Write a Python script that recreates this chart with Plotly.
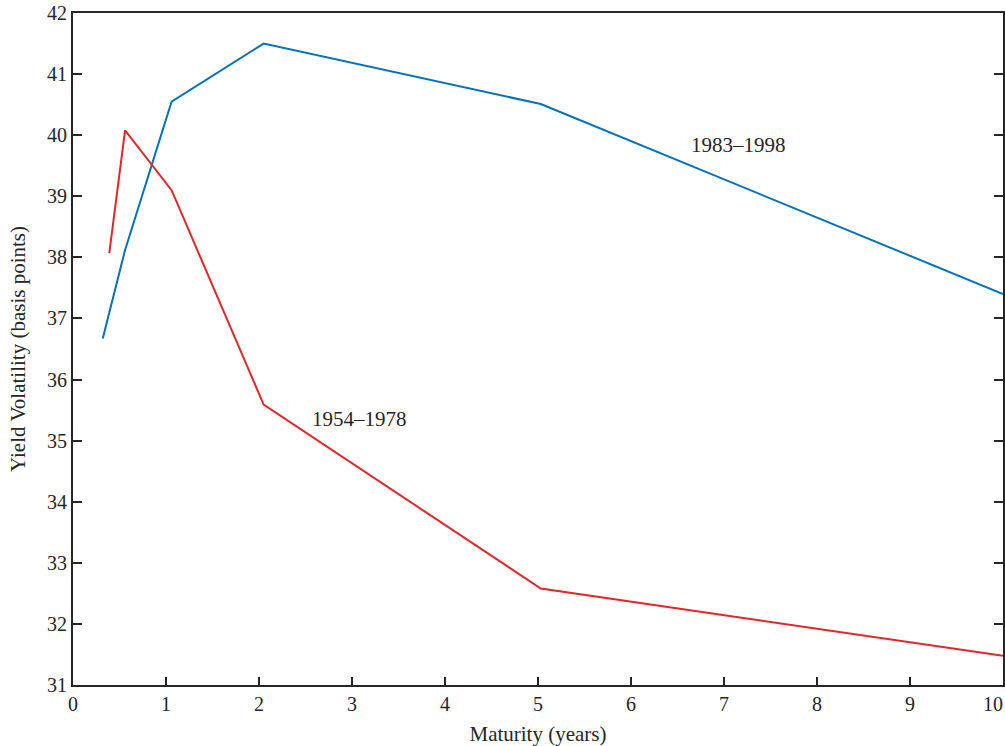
import plotly.graph_objects as go

maturity_8398 = [0.32, 0.56, 1.06, 2.05, 5.03, 10.0]
vol_8398 = [36.67, 38.12, 40.55, 41.50, 40.51, 37.40]
maturity_5478 = [0.39, 0.56, 1.06, 2.05, 5.03, 10.0]
vol_5478 = [38.07, 40.08, 39.10, 35.59, 32.58, 31.48]

label_8398 = "1983–1998"
label_5478 = "1954–1978"
x_ticks = list(range(0, 11))
y_ticks = list(range(31, 43))

FONT = "Liberation Serif, DejaVu Serif, serif"
TXT = "#262626"

fig = go.Figure()
fig.add_trace(go.Scatter(x=maturity_8398, y=vol_8398, mode="lines",
                         line=dict(color="#0072BD", width=2), showlegend=False))
fig.add_trace(go.Scatter(x=maturity_5478, y=vol_5478, mode="lines",
                         line=dict(color="#E3262A", width=2), showlegend=False))

fig.add_annotation(x=7.16, y=39.84, text=label_8398, showarrow=False,
                   font=dict(family=FONT, size=21, color=TXT))
fig.add_annotation(x=3.08, y=35.35, text=label_5478, showarrow=False,
                   font=dict(family=FONT, size=21, color=TXT))
# last x tick label, which plotly drops because it reaches the page edge
fig.add_annotation(x=x_ticks[-1], xref="x", y=0, yref="paper", text=str(x_ticks[-1]),
                   showarrow=False, xanchor="right", yanchor="top", xshift=2, yshift=-6,
                   font=dict(family=FONT, size=20, color=TXT))

fig.update_layout(
    width=1005, height=746,
    margin=dict(l=73, r=2, t=13, b=61, autoexpand=False),
    paper_bgcolor="white", plot_bgcolor="white",
    font=dict(family=FONT, size=20, color=TXT),
    xaxis=dict(range=[0, 10], tickvals=x_ticks, ticks="inside", ticklen=8,
               tickwidth=1.5, tickcolor="#262626", showline=True, linecolor="#262626",
               linewidth=2, mirror=True, showgrid=False, zeroline=False,
               automargin=False,
               title=dict(text="Maturity (years)", standoff=14,
                          font=dict(family=FONT, size=21, color=TXT)),
               tickfont=dict(family=FONT, size=20, color=TXT)),
    yaxis=dict(range=[31, 42], tickvals=y_ticks, ticks="inside", ticklen=9,
               tickwidth=1.5, tickcolor="#262626", showline=True, linecolor="#262626",
               linewidth=2, mirror="allticks", showgrid=False, zeroline=False,
               automargin=False,
               title=dict(text="Yield Volatility (basis points)", standoff=16,
                          font=dict(family=FONT, size=21, color=TXT)),
               tickfont=dict(family=FONT, size=20, color=TXT)),
)

fig.write_html("out.html", config={"displayModeBar": False},
               post_script="document.body.style.margin='0';document.body.style.overflow='hidden';")
